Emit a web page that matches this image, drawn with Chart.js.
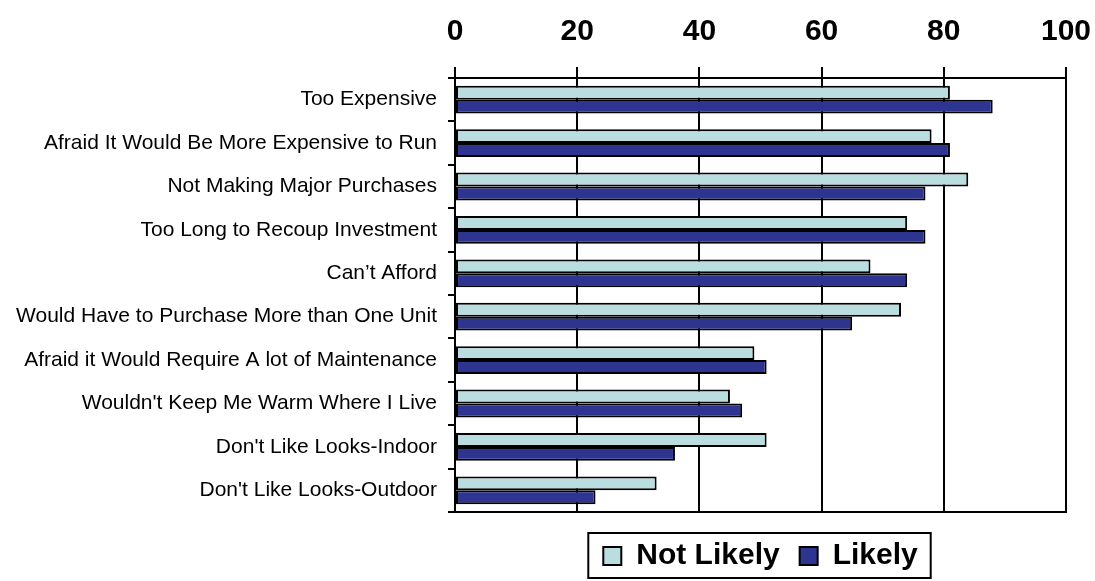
<!DOCTYPE html>
<html>
<head>
<meta charset="utf-8">
<script src="https://cdn.jsdelivr.net/npm/chart.js@4/dist/chart.umd.min.js"></script>
<style>
  html, body { margin: 0; padding: 0; background: #fff; }
  #wrap { width: 1095px; height: 581px; position: relative; }
</style>
</head>
<body>
<div id="wrap"><canvas id="c" width="1095" height="581"></canvas></div>
<script>
const categories = [
  "Too Expensive",
  "Afraid It Would Be More Expensive to Run",
  "Not Making Major Purchases",
  "Too Long to Recoup Investment",
  "Can\u2019t Afford",
  "Would Have to Purchase More than One Unit",
  "Afraid it Would Require A lot of Maintenance",
  "Wouldn't Keep Me Warm Where I Live",
  "Don't Like Looks-Indoor",
  "Don't Like Looks-Outdoor"
];
const notLikely = [81, 78, 84, 74, 68, 73, 49, 45, 51, 33];
const likely    = [88, 81, 77, 77, 74, 65, 51, 47, 36, 23];
const xTickValues = [0, 20, 40, 60, 80, 100];
const seriesNames = ["Not Likely", "Likely"];

const FONT = "'Liberation Sans', Arial, sans-serif";

const legendBorder = {
  id: 'legendBorder',
  afterDraw(chart) {
    const lg = chart.legend;
    if (!lg || !lg.legendHitBoxes || !lg.legendHitBoxes.length) return;
    const hb = lg.legendHitBoxes;
    const first = hb[0], last = hb[hb.length - 1];
    const cy = first.top + first.height / 2;
    const ctx = chart.ctx;
    ctx.save();
    ctx.strokeStyle = '#000';
    ctx.lineWidth = 2;
    const l = first.left - 15, r = last.left + last.width + 13;
    ctx.strokeRect(l, cy - 23, r - l, 45);
    ctx.restore();
  }
};

new Chart(document.getElementById('c'), {
  type: 'bar',
  data: {
    labels: categories,
    datasets: [
      { label: seriesNames[0], data: notLikely, backgroundColor: '#BADDE0', borderColor: '#000', borderWidth: 2, borderSkipped: false },
      { label: seriesNames[1], data: likely, backgroundColor: '#2D3590', borderColor: '#000', borderWidth: 2, borderSkipped: false }
    ]
  },
  options: {
    indexAxis: 'y',
    responsive: false,
    animation: false,
    devicePixelRatio: 1,
    layout: { padding: { top: 0, right: 29, bottom: 0, left: 0 } },
    datasets: { bar: { categoryPercentage: 0.64, barPercentage: 1.0 } },
    scales: {
      x: {
        type: 'linear',
        position: 'top',
        min: 0, max: 100,
        afterBuildTicks: (s) => { s.ticks = xTickValues.map(v => ({ value: v })); },
        afterFit: (s) => { s.height = 78; s.paddingRight = 0; s.paddingLeft = 0; },
        grid: { color: '#000', lineWidth: 2, tickLength: 11, drawTicks: true },
        border: { display: true, color: '#000', width: 2 },
        ticks: { color: '#000', font: { family: FONT, size: 30, weight: 'bold' }, padding: 17, maxRotation: 0 }
      },
      x2: {
        type: 'linear',
        position: 'bottom',
        min: 0, max: 100,
        afterFit: (s) => { s.height = 9; s.paddingRight = 0; s.paddingLeft = 0; },
        grid: { display: false, drawTicks: false },
        border: { display: true, color: '#000', width: 2 },
        ticks: { display: false }
      },
      y: {
        type: 'category',
        offset: true,
        afterFit: (s) => { s.width = 455; },
        grid: { offset: true, drawOnChartArea: false, drawTicks: true, tickLength: 7, color: '#000', lineWidth: 2 },
        border: { display: true, color: '#000', width: 2 },
        ticks: { color: '#000', font: { family: FONT, size: 21 }, padding: 11, autoSkip: false }
      }
    },
    plugins: {
      legend: {
        position: 'bottom',
        fullSize: false,
        labels: {
          color: '#000',
          font: { family: FONT, size: 30, weight: 'bold' },
          boxWidth: 18, boxHeight: 18, padding: 20
        }
      },
      tooltip: { enabled: false }
    }
  },
  plugins: [legendBorder]
});
</script>
</body>
</html>
